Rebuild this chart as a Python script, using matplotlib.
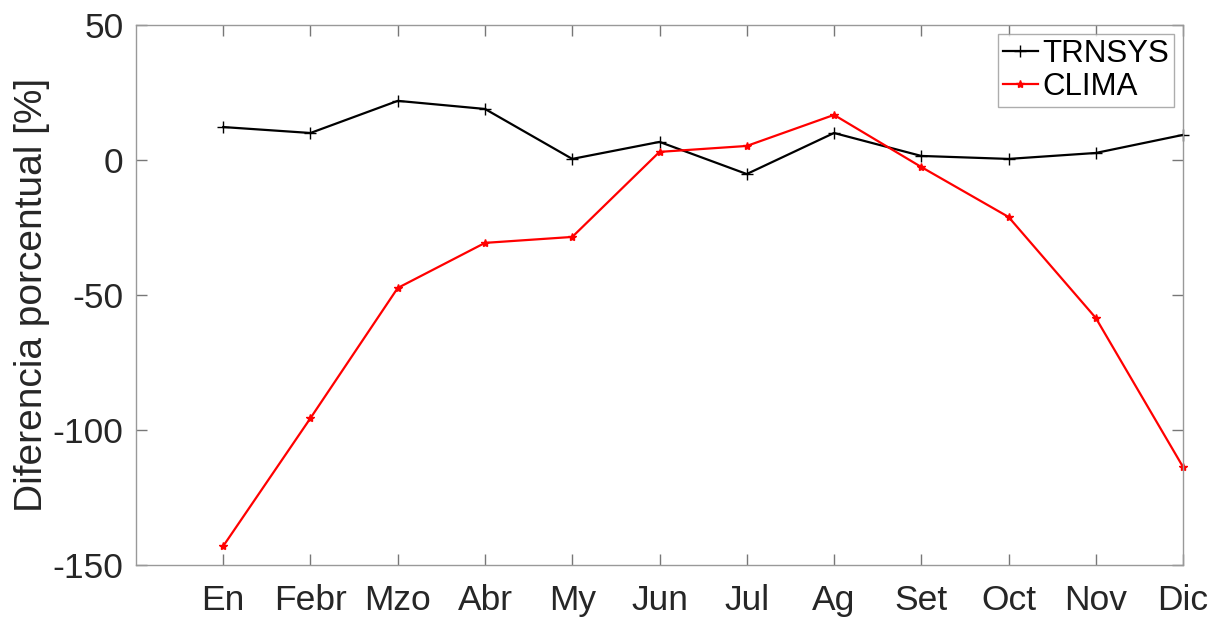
import matplotlib
matplotlib.use("Agg")
import matplotlib.pyplot as plt

plt.rcParams['font.family'] = ['Liberation Sans', 'DejaVu Sans']
plt.rcParams['axes.unicode_minus'] = False

meses = ["En", "Febr", "Mzo", "Abr", "My", "Jun", "Jul", "Ag", "Set", "Oct", "Nov", "Dic"]
trnsys = [12.2, 10.0, 21.9, 18.9, 0.4, 6.7, -5.2, 10.0, 1.5, 0.4, 2.6, 9.3]
clima = [-143.0, -95.6, -47.4, -30.7, -28.5, 3.0, 5.2, 16.7, -2.6, -21.1, -58.5, -113.7]
yticks = [-150, -100, -50, 0, 50]

fig = plt.figure(figsize=(12.14, 6.17), dpi=100)
ax = fig.add_axes([0.112, 0.0843, 0.8625, 0.8752])

x = list(range(1, len(meses) + 1))
ax.plot(x, trnsys, color='black', marker='+', markersize=8, linewidth=1.6, label='TRNSYS', clip_on=False)
ax.plot(x, clima, color='red', marker='*', markersize=6, linewidth=1.6, label='CLIMA', clip_on=False)

ax.set_xlim(0, 12)
ax.set_ylim(-150, 50)
ax.set_xticks(x)
ax.set_xticklabels(meses)
ax.set_yticks(yticks)
ax.tick_params(direction='in', length=8, width=1, color='#777777', labelsize=25.5,
               labelcolor='#262626', top=True, right=True)
ax.tick_params(axis='x', pad=14)
ax.tick_params(axis='y', pad=9)
for s in ax.spines.values():
    s.set_color('#999999')
    s.set_linewidth(1)
ax.set_ylabel('Diferencia porcentual [%]', fontsize=28, color='#262626', labelpad=2)

leg = ax.legend(loc='upper right', fontsize=22.5, frameon=True, fancybox=False,
                handlelength=1.1, handletextpad=0.15, borderpad=0.15, labelspacing=0.1,
                borderaxespad=0.3)
leg.get_frame().set_edgecolor('#999999')
leg.get_frame().set_linewidth(1)

fig.savefig('out.png', dpi=100)
